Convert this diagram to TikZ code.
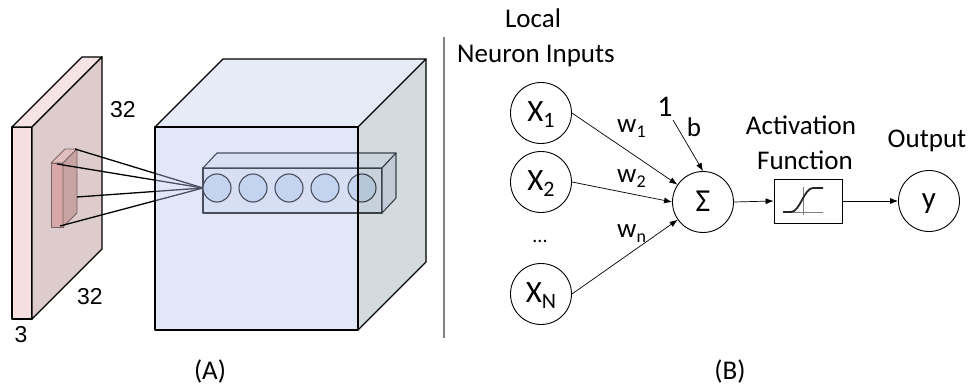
\documentclass[tikz,border=0pt]{standalone}
\usepackage{fontspec}
\setmainfont{Carlito}
\newfontfamily\arialf{Liberation Sans}
\usetikzlibrary{arrows.meta}
\definecolor{slabfront}{RGB}{245,223,224}
\definecolor{slabtop}{RGB}{246,228,228}
\definecolor{slabside}{RGB}{222,204,204}
\definecolor{rffront}{RGB}{216,168,168}
\definecolor{rftop}{RGB}{226,190,190}
\definecolor{rfside}{RGB}{200,163,163}
\definecolor{rfedge}{RGB}{120,100,100}
\definecolor{cubefront}{RGB}{182,197,237}
\definecolor{cubetop}{RGB}{192,205,237}
\definecolor{cubeside}{RGB}{147,165,177}
\definecolor{rowfront}{RGB}{236,241,249}
\definecolor{rowtop}{RGB}{240,244,250}
\definecolor{rowside}{RGB}{226,229,240}
\definecolor{cellfill}{RGB}{205,221,242}
\begin{document}
\begin{tikzpicture}[x=1pt,y=-1pt]
\tikzset{
  neuron/.style={circle, draw=black, line width=0.9pt, minimum size=61pt, inner sep=0pt,
    text height=18pt, text depth=0pt, font=\fontsize{31}{31}\selectfont},
  conn/.style={-{Latex[length=8pt,width=6pt]}, line width=0.7pt},
  lbl/.style={font=\fontsize{27}{30}\selectfont, inner sep=0pt, anchor=base},
  dimlbl/.style={font=\arialf\fontsize{23}{26}\selectfont, inner sep=0pt, anchor=base},
  edgethree/.style={draw=black, line width=1.4pt, line join=round},
  rfface/.style={draw=rfedge, line width=0.9pt, line join=round},
  rowface/.style={draw=black, line width=1.1pt, line join=round},
  fadeface/.style={fill opacity=0.4, draw=none},
}
\useasboundingbox (0,0) rectangle (972,387);
\fill[white] (0,0) rectangle (972,387);

% ---------- (A) input slab ----------
\filldraw[fill=slabfront, edgethree] (12,127) -- (32,127) -- (32,319) -- (12,319) -- cycle;
\filldraw[fill=slabtop, edgethree] (12,127) -- (32,127) -- (102,57) -- (82,57) -- cycle;
\filldraw[fill=slabside, edgethree] (32,127) -- (102,57) -- (102,249) -- (32,319) -- cycle;

% receptive field
\filldraw[fill=rffront, rfface] (51,163) -- (63,163) -- (63,227) -- (51,227) -- cycle;
\filldraw[fill=rftop, rfface] (51,163) -- (63,163) -- (77,149) -- (65,149) -- cycle;
\filldraw[fill=rfside, rfface] (63,163) -- (77,149) -- (77,213) -- (63,227) -- cycle;

\coordinate (f1) at (75,149);
\coordinate (f2) at (57,164);
\coordinate (f3) at (77,197);
\coordinate (f4) at (60,226);
\coordinate (conv) at (203,188);
\foreach \p in {f1,f2,f3,f4} \draw[line width=1.3pt] (\p) -- (conv);

% neuron row (inside the volume)
\filldraw[fill=rowfront, rowface] (203,168) -- (382,168) -- (382,213) -- (203,213) -- cycle;
\filldraw[fill=rowtop, rowface] (203,168) -- (382,168) -- (396,153) -- (217,153) -- cycle;
\filldraw[fill=rowside, rowface] (382,168) -- (396,153) -- (396,198) -- (382,213) -- cycle;
\foreach \cx in {217,253,289,325,362}
  \filldraw[fill=cellfill, draw=black, line width=1.1pt] (\cx,188) circle (14);

% output volume (semi transparent)
\fill[fill=cubefront, fadeface] (155,127) rectangle (358,330);
\fill[fill=cubetop, fadeface] (155,127) -- (358,127) -- (426,59) -- (223,59) -- cycle;
\fill[fill=cubeside, fadeface] (358,127) -- (426,59) -- (426,262) -- (358,330) -- cycle;
\draw[edgethree] (155,127) rectangle (358,330);
\draw[edgethree] (155,127) -- (223,59) -- (426,59) -- (358,127);
\draw[edgethree] (426,59) -- (426,262) -- (358,330);

\node[dimlbl] (d1) at (123,118) {32};
\node[dimlbl] (d2) at (90,305) {32};
\node[dimlbl] (d3) at (21,342) {3};
\node[lbl] (capA) at (210,379) {(A)};

% divider
\draw[gray, line width=1.5pt] (444,37) -- (444,338);

% ---------- (B) neuron ----------
\node[lbl] (loc) at (533,28) {Local};
\node[lbl] (nin) at (536,63) {Neuron Inputs};

\node[neuron] (x1) at (541,113) {X\raisebox{-6pt}{\fontsize{22}{22}\selectfont 1}};
\node[neuron] (x2) at (541,182) {X\raisebox{-6pt}{\fontsize{22}{22}\selectfont 2}};
\node[neuron] (xn) at (541,294) {X\raisebox{-6pt}{\fontsize{22}{22}\selectfont N}};
\node[lbl, font=\fontsize{20}{20}\selectfont] (dots) at (540,243) {...};

\node[neuron, font=\fontsize{32}{32}\selectfont, text height=20pt] (sum) at (703,202) {Σ};
\node[draw=black, line width=0.8pt, minimum width=68pt, minimum height=44pt, inner sep=0pt] (act) at (808,201) {};
\node[neuron, font=\fontsize{31}{31}\selectfont, text height=16pt] (out) at (929,201) {y};

% sigmoid icon
\draw[gray, line width=0.6pt] (783,212) -- (823,212);
\draw[gray, line width=0.6pt] (803,187) -- (803,215);
\draw[black!85, line width=1.8pt] (783,212) -- (791,212) .. controls (800,212) and (804,188) .. (813,188) -- (823,188);

\node[lbl] (one) at (665,117) {\fontsize{30}{30}\selectfont 1};
\node[lbl] (bb) at (694,137) {b};
\coordinate (bstart) at (673,120);

\node[lbl, anchor=base west] (w1) at (617,133) {w\raisebox{-5pt}{\fontsize{18}{18}\selectfont 1}};
\node[lbl, anchor=base west] (w2) at (617,183) {w\raisebox{-5pt}{\fontsize{18}{18}\selectfont 2}};
\node[lbl, anchor=base west] (wn) at (617,238) {w\raisebox{-5pt}{\fontsize{18}{18}\selectfont n}};

\node[lbl] (act1) at (801,135) {Activation};
\node[lbl] (act2) at (805,170) {Function};
\node[lbl] (outl) at (927,148) {Output};
\node[lbl] (capB) at (730,379) {(B)};

\draw[conn] (x1.east) -- (sum);
\draw[conn] (x2.east) -- (sum.west);
\draw[conn] (xn.east) -- (sum);
\draw[conn] (bstart) -- (sum.north);
\draw[conn] (sum.east) -- (act.west);
\draw[conn] (act.east) -- (out.west);
\end{tikzpicture}
\end{document}
